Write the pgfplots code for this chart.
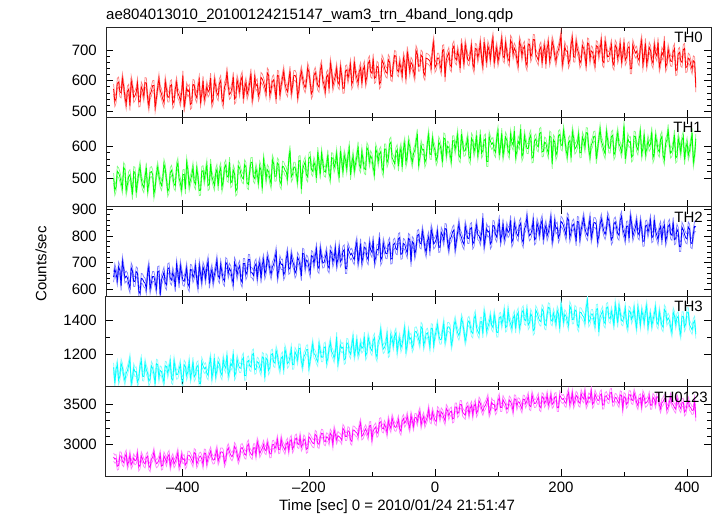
\documentclass[border=0pt]{standalone}
\usepackage{pgfplots}
\pgfplotsset{compat=1.18}
\usepackage{pgfplotstable}
\usepackage{fontspec}
\setmainfont{Liberation Sans}

\definecolor{qred}{RGB}{255,0,0}
\definecolor{qgreen}{RGB}{0,255,0}
\definecolor{qblue}{RGB}{0,0,255}
\definecolor{qcyan}{RGB}{0,255,255}
\definecolor{qmagenta}{RGB}{255,0,255}

% light curves, 2 s bins (counts/sec)
\pgfplotstableread{
t th0 th1 th2 th3 th4
-510 573 499 645 1123 2835
-508 531 460 676 1033 2809
-506 543 473 657 1111 2817
-504 592 521 633 1140 2719
-502 596 516 684 1048 2729
-500 564 504 670 1073 2851
-498 560 486 613 1146 2847
-496 608 467 705 1122 2783
-494 583 533 677 1075 2763
-492 547 526 641 1046 2833
-490 523 460 649 1088 2874
-488 566 479 642 1104 2732
-486 572 505 620 1135 2774
-484 518 510 604 1173 2860
-482 600 482 680 1028 2736
-480 581 447 668 1060 2768
-478 545 520 628 1119 2824
-476 551 518 629 1096 2786
-474 563 453 665 1099 2800
-472 592 488 660 1037 2878
-470 530 514 592 1057 2709
-468 531 536 583 1133 2733
-466 580 496 640 1164 2851
-464 569 478 638 1071 2811
-462 549 469 627 1069 2763
-460 594 503 622 1146 2747
-458 593 532 601 1109 2827
-456 543 460 660 1089 2847
-454 517 482 685 1041 2727
-452 555 517 601 1057 2699
-450 566 520 624 1132 2808
-448 584 511 647 1117 2830
-446 585 449 647 1083 2900
-444 513 469 625 1028 2800
-442 542 513 602 1144 2750
-440 577 534 666 1139 2762
-438 607 507 668 1064 2798
-436 569 487 578 1105 2866
-434 557 476 634 1099 2720
-432 540 496 648 1065 2730
-430 528 543 664 1037 2849
-428 598 528 623 1132 2815
-426 572 494 616 1128 2767
-424 546 457 676 1087 2841
-422 546 467 680 1119 2867
-420 583 517 640 1158 2721
-418 587 524 634 1057 2791
-416 525 504 663 1048 2827
-414 534 481 643 1159 2749
-412 573 475 608 1116 2779
-410 595 533 692 1080 2830
-408 559 547 660 1083 2892
-406 550 499 622 1112 2712
-404 533 484 688 1140 2758
-402 559 463 661 1053 2860
-400 617 510 633 1039 2802
-398 512 511 629 1139 2814
-396 541 465 651 1127 2736
-394 577 549 679 1074 2762
-392 564 524 620 1100 2858
-390 571 475 609 1154 2858
-388 522 493 674 1061 2834
-386 527 508 672 1092 2798
-384 588 533 643 1156 2760
-382 586 488 657 1067 2892
-380 554 480 687 1080 2878
-378 544 530 638 1127 2746
-376 579 503 611 1135 2784
-374 602 460 690 1028 2836
-372 531 461 658 1028 2846
-370 557 520 628 1155 2810
-368 600 523 683 1132 2740
-366 538 495 668 1114 2886
-364 554 517 640 1123 2882
-362 582 541 681 1088 2752
-360 563 476 705 1076 2822
-358 570 480 621 1144 2868
-356 609 544 655 1176 2912
-354 527 505 674 1061 2832
-352 539 490 628 1102 2796
-350 603 476 654 1177 2803
-348 583 514 676 1071 2871
-346 559 527 708 1104 2929
-344 551 475 650 1157 2785
-342 591 519 641 1142 2829
-340 601 532 691 1092 2899
-338 541 471 663 1077 2901
-336 527 489 638 1169 2883
-334 579 532 630 1133 2759
-332 590 541 700 1118 2799
-330 630 506 695 1196 2912
-328 580 502 659 1074 2954
-326 555 550 678 1099 2900
-324 561 485 668 1146 2860
-322 579 489 641 1131 2838
-320 613 525 621 1203 2878
-318 540 513 700 1074 2970
-316 545 459 686 1090 2940
-314 602 465 653 1170 2872
-312 585 538 677 1140 2798
-310 564 531 688 1119 2843
-308 601 514 637 1118 2943
-306 614 501 625 1166 2957
-304 541 497 696 1181 2917
-302 576 542 696 1073 2871
-300 594 534 654 1076 2859
-298 555 483 666 1156 2973
-296 570 479 712 1163 3001
-294 593 521 711 1131 2905
-292 624 549 662 1125 2875
-290 538 549 661 1198 2858
-288 561 504 651 1204 2952
-286 612 498 686 1109 2954
-284 583 529 695 1112 2862
-282 589 510 643 1156 3030
-280 550 486 683 1150 2980
-278 563 537 700 1122 2880
-276 611 523 640 1101 2916
-274 606 466 692 1184 2946
-272 594 558 711 1178 2996
-270 579 534 656 1063 2931
-268 560 498 673 1177 2915
-266 626 526 721 1168 3015
-264 619 519 705 1105 2961
-262 553 497 674 1123 2875
-260 572 481 655 1197 2877
-258 598 557 683 1203 2991
-256 603 545 693 1154 2997
-254 575 505 714 1148 2941
-252 540 506 739 1221 2985
-250 618 547 647 1195 3058
-248 616 542 668 1141 2928
-246 551 489 707 1112 2936
-244 586 480 692 1177 3064
-242 609 537 694 1186 2986
-240 631 535 653 1105 2956
-238 591 524 665 1228 2922
-236 573 519 715 1200 2998
-234 564 498 736 1145 3024
-232 598 557 674 1154 2920
-230 632 587 679 1185 3033
-228 560 503 730 1228 3059
-226 582 511 705 1138 2937
-224 617 534 692 1139 2973
-222 618 534 660 1213 3059
-220 609 512 671 1197 3077
-218 547 489 719 1166 3003
-216 567 553 709 1234 2995
-214 611 555 687 1233 3091
-212 632 465 650 1157 2961
-210 608 526 735 1128 2994
-208 588 540 732 1185 3066
-206 577 551 682 1199 3042
-204 597 510 709 1226 2934
-202 643 503 705 1228 2946
-200 628 563 683 1119 3092
-198 594 567 663 1163 3072
-196 557 527 726 1216 3038
-194 567 521 723 1261 3012
-192 617 550 696 1204 3004
-190 628 535 725 1195 3124
-188 608 500 751 1170 3108
-186 585 581 684 1155 3006
-184 579 549 678 1260 2998
-182 636 511 752 1221 3082
-180 650 577 723 1182 3138
-178 602 550 698 1182 3132
-176 587 522 700 1238 3042
-174 566 518 719 1244 3030
-172 613 540 738 1150 3092
-170 620 573 688 1176 3084
-168 574 514 679 1235 3036
-166 658 499 745 1269 3138
-164 633 564 737 1215 3110
-162 583 562 702 1201 2996
-160 601 533 719 1176 3180
-158 616 547 754 1215 3124
-156 641 577 692 1302 3052
-154 596 528 713 1144 3108
-152 588 501 755 1188 3094
-150 645 585 703 1254 3080
-148 618 553 712 1235 3048
-146 575 517 743 1241 3200
-144 576 572 748 1167 3176
-142 633 557 677 1174 3096
-140 636 529 677 1266 3098
-138 608 570 756 1263 3170
-136 630 594 741 1215 3160
-134 654 510 729 1200 3054
-132 589 544 735 1253 3036
-130 600 569 719 1299 3180
-128 664 523 711 1192 3176
-126 625 545 756 1224 3154
-124 610 567 777 1289 3144
-122 593 599 701 1195 3102
-120 631 541 728 1219 3220
-118 644 532 771 1262 3270
-116 592 582 701 1233 3102
-114 636 554 723 1244 3118
-112 649 529 758 1302 3164
-110 596 526 754 1191 3194
-108 614 596 721 1209 3150
-106 657 587 711 1298 3104
-104 666 551 772 1268 3232
-102 629 570 748 1231 3236
-100 625 560 738 1219 3056
-98 673 533 783 1280 3168
-96 608 513 702 1295 3196
-94 612 592 719 1204 3218
-92 648 578 750 1183 3136
-90 644 552 747 1274 3157
-88 590 576 795 1290 3277
-86 596 583 709 1343 3285
-84 669 532 720 1268 3205
-82 659 520 773 1230 3193
-80 642 591 753 1239 3251
-78 629 591 734 1266 3211
-76 625 549 733 1317 3141
-74 670 561 765 1207 3303
-72 662 607 775 1215 3239
-70 618 613 713 1313 3198
-68 614 564 715 1287 3330
-66 656 555 768 1251 3276
-64 684 545 773 1307 3220
-62 681 580 752 1326 3212
-60 636 589 748 1216 3256
-58 630 537 790 1269 3312
-56 661 577 794 1296 3194
-54 642 594 731 1237 3164
-52 618 534 733 1260 3294
-50 676 592 772 1308 3325
-48 662 611 768 1354 3267
-46 605 550 750 1219 3295
-44 697 567 736 1253 3355
-42 669 615 791 1330 3257
-40 633 599 787 1287 3203
-38 661 568 703 1296 3361
-36 654 549 779 1237 3297
-34 632 577 773 1256 3225
-32 616 587 731 1329 3335
-30 700 614 753 1334 3340
-28 688 639 802 1316 3284
-26 648 543 806 1289 3366
-24 649 564 774 1260 3414
-22 685 603 770 1360 3246
-20 680 588 818 1349 3314
-18 627 590 793 1250 3352
-16 618 549 757 1278 3260
-14 675 561 738 1318 3304
-12 673 611 781 1325 3348
-10 670 637 797 1295 3442
-8 665 575 743 1242 3326
-6 644 574 825 1352 3308
-4 703 625 806 1349 3408
-2 728 600 770 1251 3352
0 644 587 776 1304 3302
2 652 555 788 1339 3286
4 675 566 817 1372 3426
6 675 614 757 1312 3408
8 653 604 758 1284 3336
10 637 586 814 1286 3409
12 701 549 803 1337 3389
14 703 626 783 1381 3335
16 613 623 828 1272 3295
18 669 573 827 1305 3453
20 683 600 777 1358 3425
22 694 596 751 1360 3359
24 653 574 789 1346 3407
26 646 554 798 1253 3421
28 706 617 816 1283 3319
30 715 617 823 1364 3330
32 675 590 751 1396 3472
34 669 611 780 1355 3472
36 698 637 815 1325 3388
38 678 570 845 1308 3412
40 643 564 807 1338 3504
42 724 638 795 1408 3502
44 692 609 778 1385 3404
46 654 584 768 1334 3386
48 720 586 838 1278 3366
50 698 607 817 1309 3466
52 670 626 791 1385 3484
54 666 568 791 1395 3380
56 688 559 828 1365 3460
58 716 625 832 1330 3494
60 657 617 770 1321 3374
62 642 582 779 1407 3478
64 707 599 818 1428 3516
66 705 634 841 1356 3394
68 676 572 805 1333 3428
70 695 595 801 1318 3549
72 725 637 784 1389 3517
74 676 578 810 1390 3455
76 649 587 868 1321 3417
78 728 618 763 1447 3473
80 696 623 792 1410 3493
82 660 552 828 1334 3535
84 715 552 815 1361 3585
86 700 631 819 1384 3393
88 672 616 770 1422 3435
90 717 606 779 1368 3533
92 741 612 840 1356 3503
94 657 589 838 1431 3507
96 691 581 806 1391 3425
98 710 626 796 1326 3449
100 664 647 831 1327 3549
102 686 571 854 1413 3591
104 708 598 783 1418 3467
106 740 641 804 1375 3465
108 682 571 847 1409 3567
110 675 594 788 1454 3532
112 725 629 804 1356 3506
114 697 619 832 1362 3442
116 672 586 813 1458 3464
118 664 576 820 1400 3560
120 734 637 859 1377 3540
122 725 613 777 1351 3496
124 689 603 789 1409 3422
126 708 648 848 1428 3576
128 698 567 828 1350 3570
130 671 585 807 1424 3485
132 651 616 799 1444 3539
134 730 606 839 1352 3531
136 716 654 849 1379 3487
138 683 568 789 1444 3447
140 707 579 775 1457 3573
142 714 632 827 1401 3567
144 663 612 838 1395 3513
146 651 593 873 1468 3555
148 722 592 823 1370 3607
150 721 625 801 1383 3488
152 679 635 807 1437 3476
154 691 563 825 1419 3624
156 737 565 859 1338 3566
158 736 618 786 1347 3516
160 687 623 791 1457 3520
162 678 602 848 1442 3558
164 668 598 831 1416 3596
166 703 640 807 1396 3480
168 712 644 844 1390 3462
170 659 582 860 1463 3604
172 699 584 787 1451 3588
174 716 613 822 1374 3518
176 656 609 840 1368 3552
178 708 591 801 1432 3622
180 727 577 816 1474 3498
182 666 632 839 1469 3540
184 683 628 870 1401 3624
186 731 544 780 1392 3506
188 715 620 803 1439 3524
190 684 614 856 1414 3596
192 665 572 827 1378 3606
194 693 584 833 1455 3464
196 703 633 794 1434 3464
198 724 637 807 1348 3622
200 749 605 855 1487 3592
202 653 601 850 1445 3568
204 674 649 838 1390 3580
206 713 624 820 1433 3534
208 698 588 801 1422 3518
210 699 569 868 1391 3616
212 658 612 861 1367 3658
214 670 618 795 1481 3506
216 720 564 814 1463 3560
218 741 646 840 1403 3646
220 679 627 845 1404 3506
222 678 591 817 1459 3550
224 729 597 782 1451 3620
226 704 609 855 1371 3600
228 691 638 853 1358 3534
230 658 579 789 1446 3521
232 669 580 824 1443 3643
234 717 629 847 1426 3595
236 707 618 869 1418 3575
238 685 598 829 1387 3665
240 648 643 811 1476 3503
242 725 642 802 1513 3537
244 722 592 836 1387 3599
246 672 566 865 1399 3579
248 699 604 793 1434 3675
250 695 613 815 1435 3508
252 673 631 850 1401 3530
254 653 632 851 1367 3636
256 716 560 842 1463 3596
258 713 589 780 1466 3558
260 686 624 800 1331 3556
262 707 654 844 1415 3620
264 733 616 865 1436 3640
266 666 604 838 1453 3496
268 660 587 818 1391 3500
270 733 576 806 1379 3606
272 704 646 826 1470 3616
274 679 620 872 1476 3574
276 681 594 857 1415 3566
278 700 594 823 1406 3650
280 719 631 786 1450 3658
282 661 635 796 1420 3532
284 652 573 846 1367 3536
286 718 582 853 1489 3594
288 710 621 833 1441 3586
290 674 643 809 1382 3545
292 691 607 803 1481 3517
294 726 598 860 1441 3627
296 664 581 874 1398 3619
298 685 607 826 1392 3451
300 727 665 811 1426 3603
302 668 560 790 1468 3591
304 677 589 837 1379 3507
306 708 625 838 1356 3531
308 713 612 792 1454 3629
310 640 615 874 1447 3627
312 640 566 849 1403 3563
314 719 571 799 1425 3555
316 704 632 817 1470 3651
318 692 630 832 1396 3601
320 698 598 857 1355 3529
322 675 588 812 1474 3491
324 667 623 804 1426 3577
326 712 646 854 1372 3589
328 733 575 827 1455 3481
330 654 594 780 1427 3630
332 681 637 781 1385 3592
334 724 575 838 1447 3520
336 654 591 841 1483 3532
338 676 619 813 1356 3556
340 711 600 835 1407 3614
342 701 607 859 1436 3494
344 668 646 794 1367 3496
346 658 564 798 1400 3594
348 719 576 862 1433 3572
350 692 633 818 1474 3512
352 682 613 803 1387 3602
354 727 589 786 1373 3600
356 646 581 824 1449 3500
358 663 621 837 1407 3448
360 694 631 785 1369 3524
362 684 571 829 1357 3542
364 732 557 842 1462 3578
366 646 609 781 1449 3580
368 657 620 799 1394 3436
370 704 653 835 1413 3469
372 684 603 844 1398 3539
374 665 578 807 1357 3599
376 664 584 803 1327 3523
378 696 602 851 1446 3499
380 706 636 786 1425 3465
382 634 563 790 1375 3445
384 636 568 826 1412 3585
386 689 625 814 1422 3533
388 694 608 760 1345 3481
390 665 581 760 1315 3451
392 661 618 833 1422 3525
394 703 631 823 1422 3533
396 707 558 806 1359 3409
398 644 593 793 1377 3427
400 646 611 789 1446 3505
402 675 572 834 1445 3551
404 671 587 826 1371 3479
406 653 610 775 1357 3461
408 639 641 771 1342 3427
410 666 549 809 1382 3434
412 662 572 837 1396 3550
414 578 623 834 1317 3340
}\lc

\begin{document}
\begin{tikzpicture}[font=\fontsize{15}{18}\selectfont]
\path[use as bounding box] (-106pt,-39.7pt) rectangle (611pt,476.3pt);
\pgfplotsset{
  panel/.style={
    scale only axis, width=605pt, height=89.8pt, anchor=south west,
    xmin=-522, xmax=438,
    xtick={-400,-200,0,200,400}, minor x tick num=1, xticklabels={},
    tick align=inside, major tick length=7pt, minor tick length=4pt,
    tick style={black, line width=0.8pt},
    axis line style={line width=1pt, black!85},
    yticklabel style={inner sep=0pt, xshift=-9pt},
    xticklabel style={inner sep=0pt, yshift=-6pt},
  },
  % light copies above and below each curve stand in for the error bars
  errhi/.style 2 args={#1!50, line width=0.7pt, yshift=#2, forget plot},
  errlo/.style 2 args={#1!50, line width=0.7pt, yshift=-#2, forget plot},
  core/.style={#1, line width=0.8pt},
}

% TH0
\begin{axis}[panel, at={(0pt,359.2pt)}, ymin=480, ymax=777,
  ytick={500,600,700}, yticklabels={500,600,700}, minor y tick num=4]
\addplot[errhi={qred}{5pt}] table[x=t, y=th0] {\lc};
\addplot[errlo={qred}{5pt}] table[x=t, y=th0] {\lc};
\addplot[core=qred] table[x=t, y=th0] {\lc};
\node[anchor=north east, inner sep=0pt] at (rel axis cs:1,1) [xshift=-8pt, yshift=-4.5pt] {TH0};
\end{axis}

% TH1
\begin{axis}[panel, at={(0pt,269.4pt)}, ymin=408.5, ymax=692,
  ytick={500,600}, yticklabels={500,600}, minor y tick num=4]
\addplot[errhi={qgreen}{5pt}] table[x=t, y=th1] {\lc};
\addplot[errlo={qgreen}{5pt}] table[x=t, y=th1] {\lc};
\addplot[core=qgreen] table[x=t, y=th1] {\lc};
\node[anchor=north east, inner sep=0pt] at (rel axis cs:1,1) [xshift=-9pt, yshift=-4.5pt] {TH1};
\end{axis}

% TH2
\begin{axis}[panel, at={(0pt,179.6pt)}, ymin=571, ymax=910,
  ytick={600,700,800,900}, yticklabels={600,700,800,900}, minor y tick num=4]
\addplot[errhi={qblue}{5pt}] table[x=t, y=th2] {\lc};
\addplot[errlo={qblue}{5pt}] table[x=t, y=th2] {\lc};
\addplot[core=qblue] table[x=t, y=th2] {\lc};
\node[anchor=north east, inner sep=0pt] at (rel axis cs:1,1) [xshift=-8pt, yshift=-4.5pt] {TH2};
\end{axis}

% TH3
\begin{axis}[panel, at={(0pt,89.8pt)}, ymin=1011, ymax=1536,
  ytick={1200,1400}, yticklabels={1200,1400}, minor y tick num=1]
\addplot[errhi={qcyan}{4.5pt}] table[x=t, y=th3] {\lc};
\addplot[errlo={qcyan}{4.5pt}] table[x=t, y=th3] {\lc};
\addplot[core=qcyan] table[x=t, y=th3] {\lc};
\node[anchor=north east, inner sep=0pt] at (rel axis cs:1,1) [xshift=-8pt, yshift=-4.5pt] {TH3};
\end{axis}

% TH0123
\begin{axis}[panel, at={(0pt,0pt)}, ymin=2590, ymax=3733,
  ytick={3000,3500}, yticklabels={3000,3500}, minor y tick num=4,
  xticklabels={\textendash400,\textendash200,0,200,400}]
\addplot[errhi={qmagenta}{4pt}] table[x=t, y=th4] {\lc};
\addplot[errlo={qmagenta}{4pt}] table[x=t, y=th4] {\lc};
\addplot[core=qmagenta] table[x=t, y=th4] {\lc};
\node[anchor=north east, inner sep=0pt] at (rel axis cs:1,1) [xshift=-3pt, yshift=-5pt] {TH0123};
\end{axis}

\node[anchor=base west, inner sep=0pt] at (0pt,456.3pt) {ae804013010\_20100124215147\_wam3\_trn\_4band\_long.qdp};
\node[rotate=90, inner sep=0pt] at (-65pt,212.3pt) {Counts/sec};
\node[inner sep=0pt] at (291pt,-30.7pt) {Time [sec] 0 = 2010/01/24 21:51:47};
\end{tikzpicture}
\end{document}
